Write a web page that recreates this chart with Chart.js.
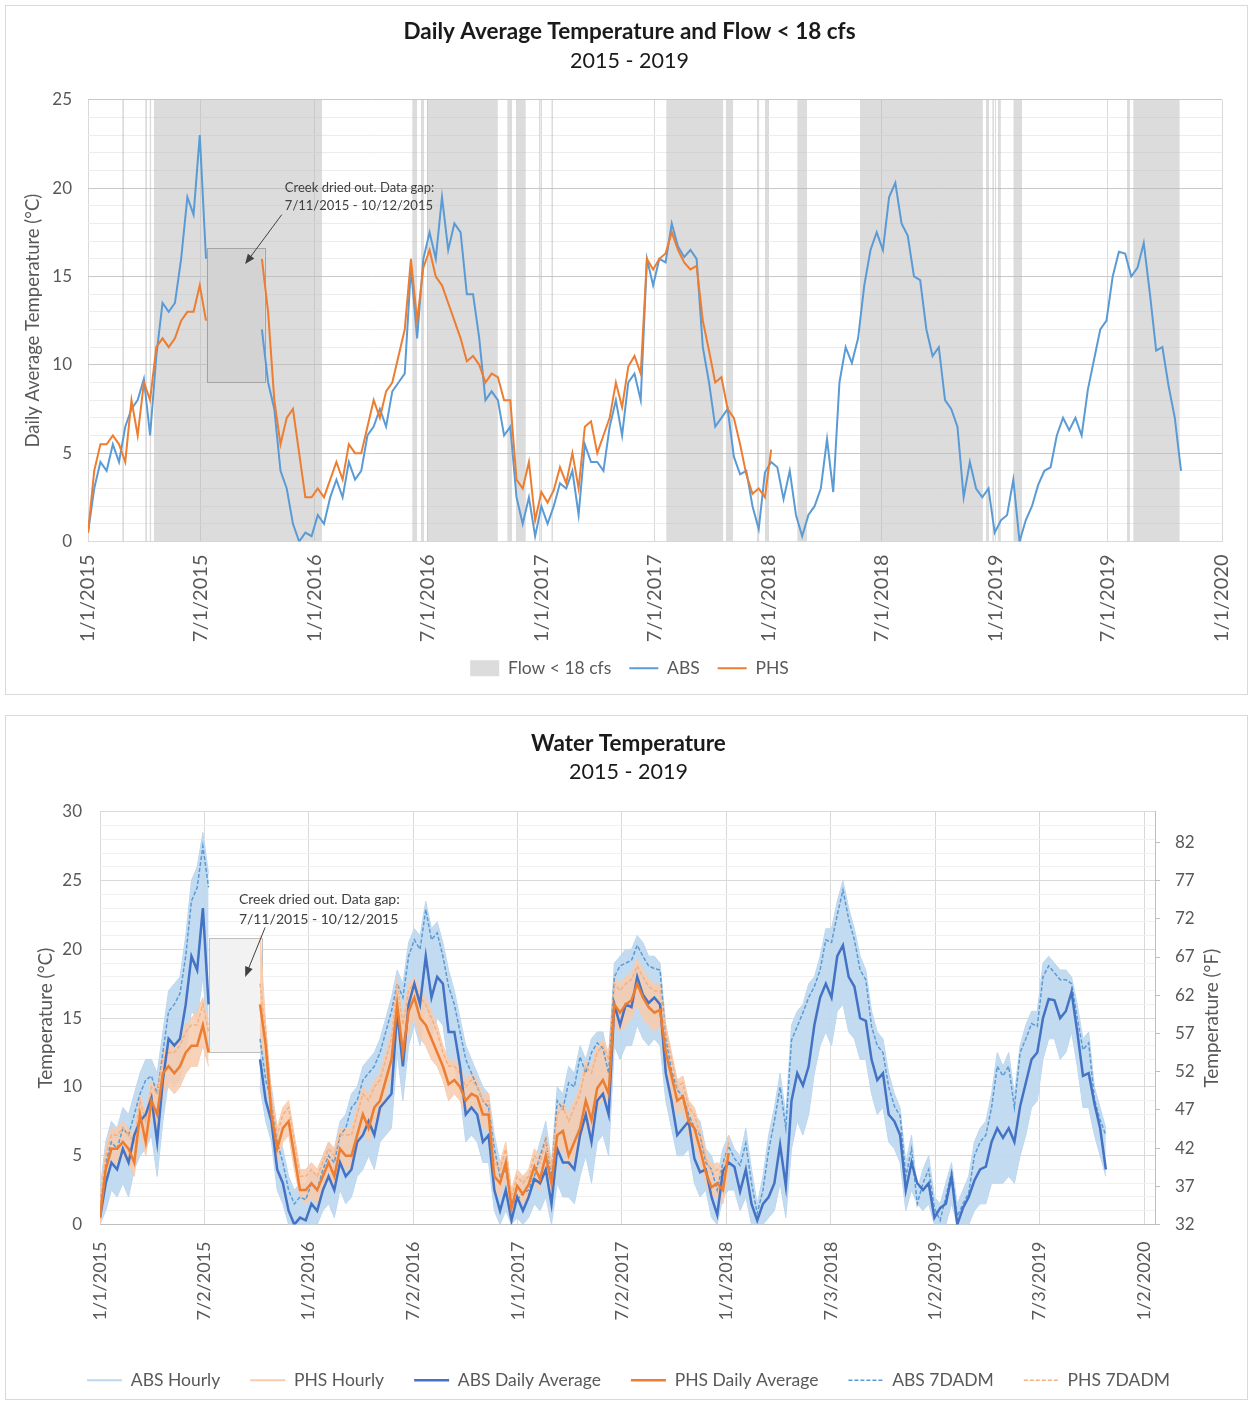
<!DOCTYPE html>
<html>
<head>
<meta charset="utf-8">
<script src="https://cdn.jsdelivr.net/npm/chart.js@4.4.1/dist/chart.umd.min.js"></script>
<style>
body { margin: 0; background: #fff; }
.box { position: absolute; left: 5px; width: 1241px; border: 1px solid #d9d9d9; }
#topBox { top: 5px; height: 688px; }
#botBox { top: 715px; height: 683px; }
canvas { display: block; }
</style>
</head>
<body>
<div class="box" id="topBox"><canvas id="flowChart" width="1241" height="688"></canvas></div>
<div class="box" id="botBox"><canvas id="waterChart" width="1241" height="683"></canvas></div>
<script>
// one reading every 10 days, first one on 1/1/2015 (day 0)
var step = 10;

var absDaily = [
  0.5, 3.0, 4.5, 4.0, 5.5, 4.5, 6.5, 7.5, 8.0, 9.2, 6.0, 10.5, 13.5, 13.0, 13.5, 16.0, 19.5, 18.5,
  23.0, 16.0, null, null, null, null, null, null, null, null, 12.0, 9.0, 7.5, 4.0, 3.0, 1.0, 0.0, 0.5,
  0.3, 1.5, 1.0, 2.5, 3.5, 2.5, 4.5, 3.5, 4.0, 6.0, 6.5, 7.5, 6.5, 8.5, 9.0, 9.5, 15.5, 11.5,
  16.0, 17.5, 16.0, 19.5, 16.5, 18.0, 17.5, 14.0, 14.0, 11.5, 8.0, 8.5, 8.0, 6.0, 6.5, 2.5, 1.0, 2.5,
  0.3, 2.0, 1.0, 2.0, 3.3, 3.0, 4.0, 1.5, 5.5, 4.5, 4.5, 4.0, 6.5, 8.0, 6.0, 9.0, 9.5, 8.0,
  16.0, 14.5, 16.0, 15.8, 18.0, 16.7, 16.1, 16.5, 16.0, 11.0, 9.0, 6.5, 7.0, 7.5, 4.8, 3.8, 4.0, 2.0,
  0.7, 3.9, 4.5, 4.2, 2.4, 4.0, 1.5, 0.3, 1.5, 2.0, 3.0, 5.8, 2.8, 9.0, 11.0, 10.1, 11.5, 14.5,
  16.5, 17.5, 16.5, 19.5, 20.3, 18.0, 17.3, 15.0, 14.8, 12.0, 10.5, 11.0, 8.0, 7.5, 6.5, 2.5, 4.5, 3.0,
  2.5, 3.0, 0.5, 1.2, 1.5, 3.5, 0.0, 1.2, 2.0, 3.2, 4.0, 4.2, 6.0, 7.0, 6.3, 7.0, 6.0, 8.6,
  10.3, 12.0, 12.5, 15.0, 16.4, 16.3, 15.0, 15.5, 16.9, 14.0, 10.8, 11.0, 8.8, 7.0, 4.0
];
var phsDaily = [
  0.5, 4.0, 5.5, 5.5, 6.0, 5.5, 4.5, 8.0, 6.0, 9.0, 8.0, 11.0, 11.5, 11.0, 11.5, 12.5, 13.0, 13.0,
  14.5, 12.5, null, null, null, null, null, null, null, null, 16.0, 13.0, 8.0, 5.5, 7.0, 7.5, 5.0, 2.5,
  2.5, 3.0, 2.5, 3.5, 4.5, 3.5, 5.5, 5.0, 5.0, 6.5, 8.0, 7.0, 8.5, 9.0, 10.5, 12.0, 16.0, 12.5,
  15.5, 16.5, 15.0, 14.5, 13.5, 12.5, 11.5, 10.2, 10.5, 10.0, 9.0, 9.5, 9.3, 8.0, 8.0, 3.5, 3.0, 4.5,
  1.2, 2.8, 2.2, 2.9, 4.2, 3.3, 5.0, 3.0, 6.5, 6.8, 5.0, 6.0, 7.0, 9.0, 7.6, 9.9, 10.5, 9.5,
  16.0, 15.4, 16.0, 16.3, 17.5, 16.5, 15.8, 15.4, 15.6, 12.5, 10.8, 9.0, 9.3, 7.5, 7.0, 5.5, 3.8, 2.7,
  3.0, 2.5, 5.2
];
var abs7dadm = [
  1.5, 4.5, 6.0, 5.5, 7.0, 6.5, 8.0, 9.5, 10.5, 10.8, 9.5, 12.5, 15.5, 16.0, 16.8, 19.5, 23.5, 24.5,
  27.5, 24.5, null, null, null, null, null, null, null, null, 13.5, 10.5, 9.0, 6.0, 4.5, 2.5, 1.5, 2.0,
  1.8, 3.0, 2.5, 4.0, 5.0, 4.5, 6.5, 7.0, 8.5, 9.0, 10.5, 11.0, 11.5, 12.5, 14.0, 15.5, 17.5, 16.5,
  19.5, 20.7, 20.0, 22.9, 20.7, 21.2, 19.5, 17.3, 16.0, 14.0, 12.0, 11.0, 10.0, 9.0, 8.5, 5.5, 3.5, 4.0,
  1.5, 1.8, 2.3, 2.5, 3.5, 5.0, 6.2, 3.5, 9.0, 8.4, 10.3, 10.0, 12.2, 11.0, 12.5, 13.2, 12.8, 11.0,
  18.0, 18.8, 19.0, 19.2, 20.3, 19.5, 18.8, 18.6, 18.5, 13.5, 11.2, 9.8, 9.3, 8.0, 7.0, 6.5, 4.5, 4.0,
  2.5, 4.5, 5.7, 4.8, 4.3, 5.9, 3.0, 0.8, 2.5, 5.4, 7.5, 10.0, 7.0, 13.4, 14.4, 15.4, 16.5, 17.3,
  18.5, 20.7, 20.5, 22.5, 24.3, 22.2, 20.7, 18.5, 17.8, 14.4, 13.0, 12.5, 10.0, 8.6, 7.9, 3.5, 5.5, 1.5,
  3.0, 4.0, 1.2, 0.3, 2.0, 3.8, 0.6, 1.5, 2.3, 5.0, 6.0, 6.5, 8.5, 11.5, 10.8, 11.5, 8.5, 12.5,
  13.5, 14.6, 14.4, 18.0, 18.8, 18.3, 17.8, 17.8, 17.5, 15.0, 12.7, 13.2, 9.1, 7.6, 6.5
];
var absHourlyMax = [
  2.5, 6.0, 7.5, 7.0, 8.5, 8.0, 9.5, 11.0, 12.0, 12.0, 11.0, 14.0, 17.0, 17.5, 18.0, 21.0, 25.0, 26.0,
  28.5, 25.5, null, null, null, null, null, null, null, null, 14.5, 11.5, 10.0, 7.0, 5.5, 3.5, 2.5, 3.0,
  3.0, 4.0, 3.5, 5.0, 6.0, 5.5, 7.5, 8.0, 9.5, 10.0, 11.5, 12.0, 12.5, 13.5, 15.0, 16.5, 18.5, 17.5,
  20.5, 21.5, 21.0, 23.5, 21.5, 22.0, 20.5, 18.5, 17.0, 15.0, 13.0, 12.0, 11.0, 10.0, 9.5, 6.5, 4.5, 5.0,
  2.5, 3.0, 3.5, 3.5, 4.5, 6.0, 7.5, 4.5, 10.0, 9.5, 11.5, 11.0, 13.0, 12.0, 13.5, 14.0, 14.0, 12.0,
  19.0, 19.5, 20.0, 20.0, 21.0, 20.5, 19.5, 19.5, 19.0, 14.5, 12.0, 10.5, 10.0, 9.0, 8.0, 7.5, 5.5, 5.0,
  3.5, 5.5, 6.5, 5.5, 5.0, 7.0, 4.0, 1.5, 3.5, 6.5, 8.5, 11.0, 8.0, 14.5, 15.5, 16.0, 17.5, 18.0,
  19.5, 21.5, 21.5, 23.5, 25.0, 23.0, 21.5, 19.5, 18.5, 15.5, 14.0, 13.5, 11.0, 9.5, 8.5, 4.5, 6.5, 2.5,
  4.0, 5.0, 2.0, 1.5, 3.0, 4.5, 1.5, 2.5, 3.5, 6.0, 7.0, 7.5, 9.5, 12.5, 11.5, 12.5, 9.5, 13.0,
  14.5, 15.5, 15.5, 19.0, 19.5, 19.0, 18.5, 18.5, 18.0, 16.0, 13.5, 14.0, 10.0, 8.5, 7.0
];
var absHourlyMin = [
  0.0, 1.0, 2.5, 2.0, 3.0, 2.0, 4.0, 5.0, 5.5, 6.5, 3.5, 7.5, 10.5, 10.0, 10.5, 12.5, 15.5, 15.0,
  18.0, 13.0, null, null, null, null, null, null, null, null, 10.0, 7.5, 6.0, 2.5, 1.5, 0.0, 0.0, 0.0,
  0.0, 0.0, 0.0, 1.0, 1.5, 0.5, 2.5, 1.5, 2.0, 3.5, 4.0, 5.0, 4.0, 6.0, 6.5, 7.0, 12.5, 9.0,
  13.0, 14.5, 13.0, 16.0, 13.5, 15.0, 14.5, 11.5, 11.5, 9.5, 6.0, 6.5, 6.0, 4.5, 4.5, 1.0, 0.0, 1.0,
  0.0, 0.5, 0.0, 0.5, 1.5, 1.0, 2.0, 0.0, 3.0, 2.0, 2.0, 1.5, 3.5, 5.0, 3.0, 6.0, 6.5, 5.0,
  13.0, 12.0, 13.0, 13.0, 14.5, 13.5, 13.0, 13.5, 13.0, 9.0, 7.0, 5.0, 5.0, 5.5, 3.0, 2.0, 2.5, 0.5,
  0.0, 2.0, 2.5, 2.5, 1.0, 2.0, 0.0, 0.0, 0.0, 0.5, 1.0, 3.0, 0.5, 5.5, 7.5, 6.5, 8.0, 11.0,
  13.0, 14.0, 13.0, 15.5, 16.0, 14.0, 13.5, 12.0, 12.0, 9.5, 8.0, 8.5, 6.0, 5.5, 4.5, 1.0, 2.5, 1.5,
  1.0, 1.5, 0.0, 0.0, 0.0, 1.5, 0.0, 0.0, 0.0, 1.0, 1.5, 1.5, 3.0, 3.0, 3.0, 3.5, 3.0, 5.0,
  6.5, 8.5, 9.0, 12.0, 13.5, 13.5, 12.0, 12.5, 14.0, 11.5, 8.5, 8.5, 6.5, 5.0, 3.5
];
var phs7dadm = [
  1.5, 5.0, 6.5, 6.5, 7.0, 6.5, 6.0, 9.0, 7.5, 10.0, 9.5, 12.0, 12.5, 12.5, 13.0, 14.0, 14.5, 14.5,
  16.0, 14.0, null, null, null, null, null, null, null, null, 17.5, 14.0, 9.0, 6.5, 8.0, 8.5, 6.0, 3.5,
  3.5, 4.0, 3.5, 4.5, 5.5, 5.0, 6.5, 6.5, 6.5, 8.0, 9.5, 9.0, 10.0, 10.5, 12.0, 13.5, 17.5, 14.5,
  17.0, 17.5, 16.5, 16.0, 15.0, 14.0, 12.5, 11.5, 11.5, 11.0, 10.0, 10.5, 10.0, 9.0, 9.0, 4.5, 4.0, 5.5,
  2.0, 3.5, 3.0, 3.5, 5.0, 4.5, 6.0, 4.0, 8.0, 8.5, 7.5, 8.5, 9.5, 11.5, 11.0, 12.5, 13.0, 12.0,
  17.5, 17.0, 17.5, 17.8, 18.8, 18.0, 17.3, 17.0, 17.0, 14.0, 12.0, 10.0, 10.3, 8.5, 8.0, 6.5, 4.8, 3.8,
  4.0, 3.5, 6.0
];
var phsHourlyMax = [
  2.0, 5.5, 7.0, 7.0, 7.5, 7.0, 6.5, 9.5, 8.0, 10.5, 10.0, 12.5, 13.0, 13.0, 13.5, 14.5, 15.0, 15.5,
  16.5, 14.5, null, null, null, null, null, null, null, null, 21.0, 14.5, 9.5, 7.0, 8.5, 9.0, 6.5, 4.0,
  4.0, 4.5, 4.0, 5.0, 6.0, 5.5, 7.0, 7.0, 7.0, 8.5, 10.0, 9.5, 10.5, 11.0, 12.5, 14.0, 18.0, 15.0,
  17.5, 18.0, 17.0, 16.5, 15.5, 14.5, 13.0, 12.0, 12.0, 11.5, 10.5, 11.0, 10.5, 9.5, 9.5, 5.0, 4.5, 6.0,
  2.5, 4.0, 3.5, 4.0, 5.5, 5.0, 6.5, 4.5, 8.5, 9.0, 8.0, 9.0, 10.0, 12.0, 11.5, 13.0, 13.5, 12.5,
  18.0, 17.5, 18.0, 18.3, 19.3, 18.5, 17.8, 17.5, 17.5, 14.5, 12.5, 10.5, 10.8, 9.0, 8.5, 7.0, 5.3, 4.3,
  4.5, 4.0, 6.5
];
var phsHourlyMin = [
  0.0, 3.0, 4.5, 4.5, 5.0, 4.5, 3.5, 7.0, 5.0, 8.0, 7.0, 9.5, 10.0, 9.5, 10.0, 11.0, 11.5, 11.5,
  13.0, 11.5, null, null, null, null, null, null, null, null, 13.0, 12.0, 7.0, 4.5, 6.0, 6.5, 4.0, 2.0,
  1.5, 2.0, 1.5, 2.5, 3.5, 2.5, 4.5, 4.0, 4.0, 5.5, 7.0, 6.0, 7.5, 8.0, 9.5, 11.0, 14.5, 11.5,
  14.0, 15.0, 13.5, 13.0, 12.0, 11.5, 10.5, 9.0, 9.5, 9.0, 8.0, 8.5, 8.5, 7.0, 7.0, 2.5, 2.0, 3.5,
  0.5, 2.0, 1.5, 2.0, 3.0, 2.5, 4.0, 2.0, 5.0, 5.5, 4.0, 5.0, 6.0, 7.5, 6.5, 8.5, 9.0, 8.5,
  14.5, 14.0, 14.5, 15.0, 16.0, 15.0, 14.5, 14.0, 14.5, 11.0, 9.5, 8.0, 8.3, 6.5, 6.0, 4.5, 3.0, 2.0,
  2.0, 1.5, 4.0
];

// days (from 1/1/2015) with flow under 18 cfs
var flowStart = [55, 92, 99, 106, 522, 536, 546, 675, 689, 726, 746, 931, 1027, 1077, 1090, 1142, 1243, 1446, 1456, 1465, 1490, 1673, 1683];
var flowEnd = [58, 95, 102, 377, 530, 541, 660, 683, 705, 729, 749, 1023, 1039, 1081, 1095, 1158, 1441, 1451, 1459, 1470, 1504, 1678, 1758];

// data gap 7/11/2015 - 10/12/2015
var gapStart = 191;
var gapEnd = 284;
var gapNoteLines = ['Creek dried out. Data gap:', '7/11/2015 - 10/12/2015'];

var topTickDays = [0, 181, 365, 547, 731, 912, 1096, 1277, 1461, 1642, 1826];
var topTickLabels = ['1/1/2015', '7/1/2015', '1/1/2016', '7/1/2016', '1/1/2017', '7/1/2017', '1/1/2018', '7/1/2018', '1/1/2019', '7/1/2019', '1/1/2020'];
var botTickDays = [0, 182, 365, 548, 731, 913, 1096, 1279, 1462, 1644, 1827];
var botTickLabels = ['1/1/2015', '7/2/2015', '1/1/2016', '7/2/2016', '1/1/2017', '7/2/2017', '1/1/2018', '7/3/2018', '1/2/2019', '7/3/2019', '1/2/2020'];
var fTicks = [32, 37, 42, 47, 52, 57, 62, 67, 72, 77, 82];

Chart.defaults.font.family = 'Lato, sans-serif';
Chart.defaults.animation = false;

function toPoints(vals) {
  return vals.map(function (v, i) { return { x: i * step, y: v }; });
}

function flowPoints() {
  var pts = [];
  flowStart.forEach(function (s, i) {
    pts.push({ x: s, y: 25 }, { x: flowEnd[i], y: 25 }, { x: flowEnd[i] + 0.5, y: null });
  });
  return pts;
}

function legendItems(chart) {
  var items = [];
  chart.data.datasets.forEach(function (ds, i) {
    if (!ds.label) return;
    items.push({
      text: ds.label, datasetIndex: i, hidden: false,
      fillStyle: ds.backgroundColor, strokeStyle: ds.borderColor,
      lineWidth: ds.keyWidth, lineDash: ds.borderDash || [],
      pointStyle: ds.keyStyle, fontColor: '#595959'
    });
  });
  return items;
}

function minorGrid(c) {
  return c.tick.value % 5 === 0 ? 'rgba(0,0,0,0)' : c.chart.options.minorColor;
}

var gapNote = {
  id: 'gapNote',
  beforeDatasetsDraw: function (chart, args, o) {
    var x = chart.scales.x, y = chart.scales.y, c = chart.ctx;
    var l = x.getPixelForValue(gapStart), r = x.getPixelForValue(gapEnd);
    var t = y.getPixelForValue(o.boxTop), b = y.getPixelForValue(o.boxBottom);
    c.save();
    c.fillStyle = o.fill;
    c.fillRect(l, t, r - l, b - t);
    c.strokeStyle = o.stroke;
    c.lineWidth = 1;
    c.strokeRect(Math.round(l) + 0.5, Math.round(t) + 0.5, Math.round(r - l), Math.round(b - t));
    c.restore();
  },
  afterDatasetsDraw: function (chart, args, o) {
    var x = chart.scales.x, y = chart.scales.y, c = chart.ctx;
    c.save();
    c.fillStyle = '#404040';
    c.font = o.fontSize + 'px Lato';
    c.textAlign = 'left';
    c.textBaseline = 'middle';
    gapNoteLines.forEach(function (line, i) {
      c.fillText(line, x.getPixelForValue(o.textDay), y.getPixelForValue(o.textTemps[i]));
    });
    var x1 = x.getPixelForValue(o.arrowFrom[0]), y1 = y.getPixelForValue(o.arrowFrom[1]);
    var x2 = x.getPixelForValue(o.arrowTo[0]), y2 = y.getPixelForValue(o.arrowTo[1]);
    var a = Math.atan2(y2 - y1, x2 - x1);
    c.strokeStyle = '#404040';
    c.lineWidth = 1;
    c.beginPath();
    c.moveTo(x1, y1);
    c.lineTo(x2 - 6 * Math.cos(a), y2 - 6 * Math.sin(a));
    c.stroke();
    c.beginPath();
    c.moveTo(x2, y2);
    c.lineTo(x2 - 10 * Math.cos(a) + 4 * Math.sin(a), y2 - 10 * Math.sin(a) - 4 * Math.cos(a));
    c.lineTo(x2 - 10 * Math.cos(a) - 4 * Math.sin(a), y2 - 10 * Math.sin(a) + 4 * Math.cos(a));
    c.closePath();
    c.fill();
    c.restore();
  }
};

// right axis title, turned the same way as the left one
var sideTitle = {
  id: 'sideTitle',
  afterDraw: function (chart, args, o) {
    var s = chart.scales.yF, c = chart.ctx;
    c.save();
    c.translate(s.right - o.offset, (s.top + s.bottom) / 2);
    c.rotate(-Math.PI / 2);
    c.fillStyle = '#595959';
    c.font = o.fontSize + 'px Lato';
    c.textAlign = 'center';
    c.textBaseline = 'middle';
    c.fillText(o.text, 0, 0);
    c.restore();
  }
};

// ---------- top chart ----------
new Chart(document.getElementById('flowChart'), {
  type: 'line',
  data: {
    datasets: [{
      label: 'Flow < 18 cfs',
      data: flowPoints(),
      backgroundColor: 'rgba(185,185,185,0.5)',
      borderColor: 'rgba(0,0,0,0)',
      borderWidth: 0,
      fill: 'origin',
      order: 3,
      keyStyle: 'rect', keyWidth: 0
    }, {
      label: 'ABS',
      data: toPoints(absDaily),
      borderColor: '#5b9bd5',
      backgroundColor: '#5b9bd5',
      borderWidth: 2,
      order: 2,
      keyStyle: 'line', keyWidth: 2
    }, {
      label: 'PHS',
      data: toPoints(phsDaily),
      borderColor: '#ed7d31',
      backgroundColor: '#ed7d31',
      borderWidth: 2,
      order: 1,
      keyStyle: 'line', keyWidth: 2
    }]
  },
  options: {
    responsive: false,
    minorColor: '#ececec',
    spanGaps: false,
    elements: { point: { radius: 0 }, line: { tension: 0 } },
    layout: { padding: { left: 31, right: 25, top: 0, bottom: 7 } },
    scales: {
      x: {
        type: 'linear', min: 0, max: 1826,
        afterBuildTicks: function (s) { s.ticks = topTickDays.map(function (d) { return { value: d }; }); },
        afterFit: function (s) { s.height = 100; s.paddingRight = 0; },
        ticks: {
          autoSkip: false, minRotation: 90, maxRotation: 90, padding: 13,
          color: '#595959', font: { size: 20 },
          callback: function (v, i) { return topTickLabels[i]; }
        },
        grid: { color: '#d9d9d9', drawTicks: false },
        border: { color: '#d9d9d9' }
      },
      y: {
        min: 0, max: 25, position: 'left',
        afterFit: function (s) { s.width = 51; },
        ticks: { stepSize: 5, padding: 16, color: '#595959', font: { size: 17 } },
        grid: { color: '#c8c8c8', drawTicks: false },
        border: { display: false },
        title: { display: true, text: 'Daily Average Temperature (°C)', color: '#595959', font: { size: 18.5 }, padding: { top: -15, bottom: 0 } }
      },
      yMinor: {
        min: 0, max: 25, position: 'left',
        afterFit: function (s) { s.width = 0; },
        ticks: { display: false, stepSize: 1 },
        grid: { color: minorGrid, drawTicks: false },
        border: { display: false }
      }
    },
    plugins: {
      title: { display: true, text: 'Daily Average Temperature and Flow < 18 cfs', color: '#1a1a1a', font: { size: 22.5, weight: 'bold' }, padding: { top: 12, bottom: 3 } },
      subtitle: { display: true, text: '2015 - 2019', color: '#1a1a1a', font: { size: 21.5 }, padding: { top: 0, bottom: 26 } },
      legend: {
        position: 'bottom',
        labels: { usePointStyle: true, pointStyleWidth: 29, boxHeight: 16, padding: 18, color: '#595959', font: { size: 17.5 }, generateLabels: legendItems }
      },
      tooltip: { enabled: false },
      gapNote: {
        boxTop: 16.6, boxBottom: 9.0, fill: '#ececec', stroke: '#8c8c8c',
        fontSize: 13, textDay: 317, textTemps: [20.0, 19.0],
        arrowFrom: [312, 18.5], arrowTo: [253, 15.7]
      }
    }
  },
  plugins: [gapNote]
});

// ---------- bottom chart ----------
new Chart(document.getElementById('waterChart'), {
  type: 'line',
  data: {
    datasets: [{
      label: 'ABS Hourly',
      data: toPoints(absHourlyMax),
      borderColor: '#bdd7ee', backgroundColor: 'rgba(189,215,238,0.9)',
      borderWidth: 1, fill: '+1', order: 6,
      keyStyle: 'line', keyWidth: 2
    }, {
      label: '',
      data: toPoints(absHourlyMin),
      borderColor: '#bdd7ee', backgroundColor: '#bdd7ee',
      borderWidth: 1, fill: false, order: 6
    }, {
      label: 'PHS Hourly',
      data: toPoints(phsHourlyMax),
      borderColor: '#f8cbad', backgroundColor: 'rgba(248,203,173,0.85)',
      borderWidth: 1, fill: '+1', order: 5,
      keyStyle: 'line', keyWidth: 2
    }, {
      label: '',
      data: toPoints(phsHourlyMin),
      borderColor: '#f8cbad', backgroundColor: '#f8cbad',
      borderWidth: 1, fill: false, order: 5
    }, {
      label: 'ABS Daily Average',
      data: toPoints(absDaily),
      borderColor: '#4472c4', backgroundColor: '#4472c4',
      borderWidth: 2.5, order: 2,
      keyStyle: 'line', keyWidth: 2.5
    }, {
      label: 'PHS Daily Average',
      data: toPoints(phsDaily),
      borderColor: '#ed7d31', backgroundColor: '#ed7d31',
      borderWidth: 2.5, order: 1,
      keyStyle: 'line', keyWidth: 2.5
    }, {
      label: 'ABS 7DADM',
      data: toPoints(abs7dadm),
      borderColor: '#5b9bd5', backgroundColor: '#5b9bd5',
      borderWidth: 1.5, borderDash: [4, 2], order: 4,
      keyStyle: 'line', keyWidth: 1.5
    }, {
      label: 'PHS 7DADM',
      data: toPoints(phs7dadm),
      borderColor: '#f4b183', backgroundColor: '#f4b183',
      borderWidth: 1.5, borderDash: [4, 2], order: 3,
      keyStyle: 'line', keyWidth: 1.5
    }]
  },
  options: {
    responsive: false,
    minorColor: '#f0f0f0',
    spanGaps: false,
    elements: { point: { radius: 0 }, line: { tension: 0 } },
    layout: { padding: { left: 16, right: 12, top: 0, bottom: 0 } },
    scales: {
      x: {
        type: 'linear', min: 0, max: 1846,
        afterBuildTicks: function (s) { s.ticks = botTickDays.map(function (d) { return { value: d }; }); },
        afterFit: function (s) { s.height = 117; },
        ticks: {
          autoSkip: false, minRotation: 90, maxRotation: 90, padding: 17,
          color: '#595959', font: { size: 18 },
          callback: function (v, i) { return botTickLabels[i]; }
        },
        grid: { color: '#d9d9d9', drawTicks: false },
        border: { color: '#bfbfbf' }
      },
      y: {
        min: 0, max: 30, position: 'left',
        afterFit: function (s) { s.width = 78; },
        ticks: { stepSize: 5, padding: 18, color: '#595959', font: { size: 17 } },
        grid: { color: '#d9d9d9', drawTicks: false },
        border: { display: false },
        title: { display: true, text: 'Temperature (°C)', color: '#595959', font: { size: 19 }, padding: { top: 12, bottom: 0 } }
      },
      yMinor: {
        min: 0, max: 30, position: 'left',
        afterFit: function (s) { s.width = 0; },
        ticks: { display: false, stepSize: 1 },
        grid: { color: minorGrid, drawTicks: false },
        border: { display: false }
      },
      yF: {
        min: 32, max: 86, position: 'right',
        afterBuildTicks: function (s) { s.ticks = fTicks.map(function (v) { return { value: v }; }); },
        afterFit: function (s) { s.width = 80; },
        ticks: { padding: 15, color: '#595959', font: { size: 17 } },
        grid: { drawOnChartArea: false, color: '#bfbfbf', tickLength: 5 },
        border: { color: '#bfbfbf' }
      }
    },
    plugins: {
      title: { display: true, text: 'Water Temperature', color: '#1a1a1a', font: { size: 22.5, weight: 'bold' }, padding: { top: 14, bottom: 2 } },
      subtitle: { display: true, text: '2015 - 2019', color: '#1a1a1a', font: { size: 21.5 }, padding: { top: 0, bottom: 27 } },
      legend: {
        position: 'bottom',
        labels: { usePointStyle: true, pointStyleWidth: 35, boxHeight: 16, padding: 30, color: '#595959', font: { size: 17.5 }, generateLabels: legendItems }
      },
      tooltip: { enabled: false },
      gapNote: {
        boxTop: 20.8, boxBottom: 12.5, fill: '#f2f2f2', stroke: '#bfbfbf',
        fontSize: 14, textDay: 243, textTemps: [23.6, 22.2],
        arrowFrom: [289, 21.6], arrowTo: [254, 18.0]
      },
      sideTitle: { text: 'Temperature (°F)', fontSize: 19, offset: 23 }
    }
  },
  plugins: [gapNote, sideTitle]
});
</script>
</body>
</html>
